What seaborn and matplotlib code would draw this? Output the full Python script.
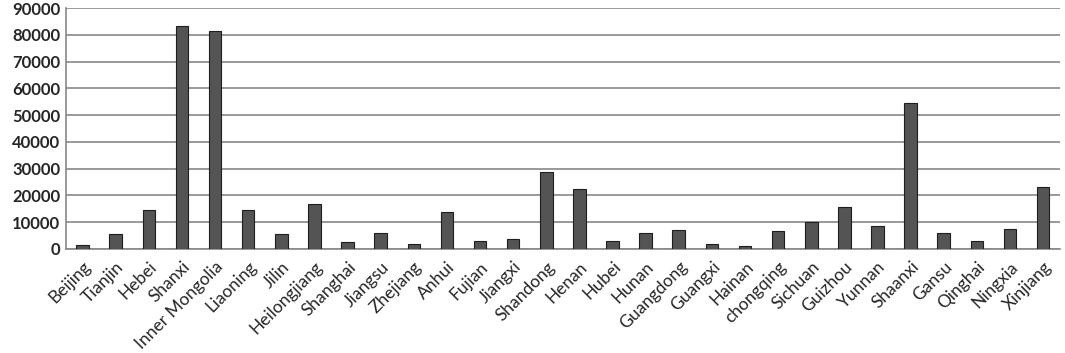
import numpy as np
import pandas as pd
import matplotlib
matplotlib.use("Agg")
import matplotlib.pyplot as plt
import seaborn as sns

# ---------- data ----------
provinces = [
    "Beijing", "Tianjin", "Hebei", "Shanxi", "Inner Mongolia", "Liaoning",
    "Jilin", "Heilongjiang", "Shanghai", "Jiangsu", "Zhejiang", "Anhui",
    "Fujian", "Jiangxi", "Shandong", "Henan", "Hubei", "Hunan", "Guangdong",
    "Guangxi", "Hainan", "chongqing", "Sichuan", "Guizhou", "Yunnan",
    "Shaanxi", "Gansu", "Qinghai", "Ningxia", "Xinjiang",
]
values = [
    1500, 5500, 14600, 83500, 81500, 14600,
    5500, 16600, 2500, 6100, 2000, 13700,
    3100, 3600, 28800, 22200, 3100, 6100, 7100,
    2000, 1000, 6600, 10100, 15600, 8600,
    54400, 6100, 3100, 7600, 23200,
]
y_ticks = [0, 10000, 20000, 30000, 40000, 50000, 60000, 70000, 80000, 90000]

df = pd.DataFrame({"province": provinces, "value": values})

# ---------- style ----------
sns.set_style("white")
plt.rcParams["font.family"] = ["Lato", "DejaVu Sans"]

fig = plt.figure(figsize=(10.65, 3.53), dpi=100)
ax = fig.add_axes([0.062, 0.295, 0.933, 0.682])

sns.barplot(data=df, x="province", y="value", color="#545454",
            edgecolor="#1e1e1e", linewidth=0.8, width=0.38,
            saturation=1, ax=ax, zorder=3)

ax.set_ylim(0, 90000)
ax.set_xlim(-0.5, len(provinces) - 0.5)
ax.set_yticks(y_ticks)
ax.set_yticklabels([str(t) for t in y_ticks], fontsize=12, fontweight="bold")
ax.yaxis.grid(True, color="#888888", linewidth=1.2, zorder=0)
ax.set_axisbelow(True)

# category labels
ax.set_xticks(range(len(provinces)))
ax.set_xticklabels(provinces, rotation=45, ha="right", rotation_mode="anchor",
                   fontsize=12.5)
ax.tick_params(axis="x", length=0, pad=7)
ax.tick_params(axis="y", length=0, pad=4)

# tick marks between categories (Excel style)
ax.set_xticks(np.arange(-0.5, len(provinces), 1), minor=True)
ax.tick_params(axis="x", which="minor", length=5, color="#888888", width=1)

ax.set_xlabel("")
ax.set_ylabel("")
for side in ["top", "right"]:
    ax.spines[side].set_visible(False)
for side in ["left", "bottom"]:
    ax.spines[side].set_color("#888888")
    ax.spines[side].set_linewidth(1.2)

fig.savefig("out.png", dpi=100)
